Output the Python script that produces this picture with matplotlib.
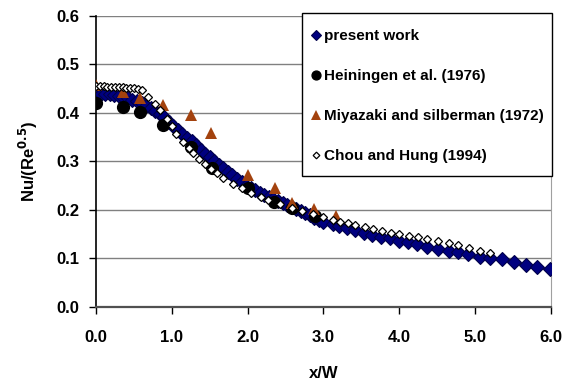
import matplotlib
matplotlib.use("Agg")
import matplotlib.pyplot as plt
from matplotlib.patches import Rectangle

plt.rcParams['font.family'] = ['Liberation Sans', 'DejaVu Sans']
plt.rcParams['font.weight'] = 'bold'

# present work (dense part up to ~2.9, then spaced)
present_x = [0.00, 0.06, 0.12, 0.18, 0.24, 0.30, 0.36, 0.42, 0.48, 0.54,
             0.60, 0.66, 0.72, 0.78, 0.84, 0.90, 0.96, 1.02, 1.08, 1.14,
             1.20, 1.26, 1.32, 1.38, 1.44, 1.50, 1.56, 1.62, 1.68, 1.74,
             1.80, 1.86, 1.92, 1.98, 2.04, 2.10, 2.16, 2.22, 2.28, 2.34,
             2.40, 2.46, 2.52, 2.58, 2.64, 2.70, 2.76, 2.82, 2.88, 2.94,
             3.00, 3.12, 3.21, 3.31, 3.41, 3.54, 3.64, 3.76, 3.88, 4.00,
             4.12, 4.24, 4.37, 4.51, 4.65, 4.77, 4.91, 5.06, 5.20, 5.35,
             5.51, 5.67, 5.82, 5.99]
present_y = [0.437, 0.439, 0.439, 0.438, 0.436, 0.434, 0.432, 0.430, 0.427, 0.424,
             0.420, 0.415, 0.410, 0.404, 0.398, 0.391, 0.382, 0.373, 0.365, 0.357,
             0.349, 0.341, 0.333, 0.324, 0.316, 0.308, 0.300, 0.293, 0.286, 0.278,
             0.271, 0.264, 0.257, 0.250, 0.245, 0.240, 0.235, 0.231, 0.227, 0.222,
             0.218, 0.214, 0.210, 0.206, 0.202, 0.198, 0.193, 0.189, 0.184, 0.180,
             0.175, 0.170, 0.166, 0.162, 0.158, 0.153, 0.148, 0.143, 0.141, 0.135,
             0.133, 0.129, 0.124, 0.120, 0.115, 0.113, 0.109, 0.103, 0.101, 0.098,
             0.093, 0.087, 0.082, 0.077]

# Heiningen et al. (1976)
hein_x = [0.0, 0.35, 0.58, 0.88, 1.25, 1.53, 2.0, 2.35, 2.58, 2.89]
hein_y = [0.421, 0.412, 0.402, 0.375, 0.330, 0.287, 0.246, 0.217, 0.203, 0.187]

# Miyazaki and silberman (1972)
miya_x = [0.0, 0.35, 0.58, 0.89, 1.25, 1.52, 2.01, 2.36, 2.59, 2.88, 3.17]
miya_y = [0.457, 0.443, 0.430, 0.416, 0.395, 0.359, 0.272, 0.244, 0.214, 0.201, 0.187]

# Chou and Hung (1994)
chou_x = [0.00, 0.05, 0.10, 0.15, 0.20, 0.25, 0.30, 0.35, 0.40, 0.45,
          0.50, 0.55, 0.60, 0.69, 0.78, 0.84, 0.93, 1.00, 1.06, 1.15,
          1.22, 1.28, 1.36, 1.44, 1.52, 1.59, 1.68, 1.81, 1.92, 2.05,
          2.18, 2.27, 2.43, 2.58, 2.72, 2.86, 3.00, 3.12, 3.22, 3.32,
          3.42, 3.55, 3.66, 3.77, 3.89, 4.00, 4.13, 4.25, 4.37, 4.51,
          4.66, 4.78, 4.92, 5.06, 5.20]
chou_y = [0.455, 0.455, 0.455, 0.454, 0.454, 0.454, 0.453, 0.453, 0.452, 0.452,
          0.451, 0.450, 0.447, 0.433, 0.419, 0.405, 0.388, 0.372, 0.357, 0.340,
          0.328, 0.317, 0.305, 0.295, 0.284, 0.275, 0.265, 0.254, 0.244, 0.234,
          0.226, 0.220, 0.211, 0.203, 0.197, 0.191, 0.186, 0.180, 0.175, 0.172,
          0.168, 0.164, 0.160, 0.157, 0.153, 0.150, 0.146, 0.143, 0.139, 0.135,
          0.131, 0.127, 0.122, 0.115, 0.110]

fig = plt.figure(figsize=(5.75, 3.85), dpi=100)
ax = fig.add_axes([0.167, 0.203, 0.791, 0.756])

ax.plot(present_x, present_y, 'D', color='#000080', mec='#00004a', mew=0.8, ms=7,
        label='present work', zorder=3)
ax.plot(hein_x, hein_y, 'o', color='black', ms=8.5, label='Heiningen et al. (1976)', zorder=4)
ax.plot(miya_x, miya_y, '^', color='#a3420e', ms=9, mew=0,
        label='Miyazaki and silberman (1972)', zorder=5)
ax.plot(chou_x, chou_y, 'D', mfc='white', mec='black', mew=0.9, ms=4.5,
        label='Chou and Hung (1994)', zorder=6)

ax.set_xlim(0, 6)
ax.set_ylim(0, 0.6)
ax.set_xticks([0, 1, 2, 3, 4, 5, 6])
ax.set_xticklabels(['0.0', '1.0', '2.0', '3.0', '4.0', '5.0', '6.0'])
ax.set_yticks([0, 0.1, 0.2, 0.3, 0.4, 0.5, 0.6])
ax.set_yticklabels(['0.0', '0.1', '0.2', '0.3', '0.4', '0.5', '0.6'])
ax.tick_params(labelsize=12, length=5, width=1, direction='out')
ax.tick_params(axis='x', pad=12)
ax.tick_params(axis='y', pad=7)
ax.yaxis.grid(True, color='#808080', lw=1)
ax.set_axisbelow(True)
ax.spines['top'].set_visible(False)
ax.spines['right'].set_color('#a0a0a0')
ax.spines['right'].set_linewidth(0.8)
ax.spines['left'].set_linewidth(1.2)
ax.spines['bottom'].set_linewidth(1.6)
ax.spines['bottom'].set_color('#505050')

ax.set_xlabel('x/W', fontsize=12, fontweight='bold', labelpad=15)
ax.set_ylabel(r'Nu/(Re$^{\mathbf{0.5}}$)', fontsize=12, fontweight='bold', labelpad=12)

# legend box drawn separately so its size matches the original
W, H = 575.0, 385.0
box = Rectangle((302 / W, 1 - 176 / H), 250 / W, 163 / H, transform=fig.transFigure,
                facecolor='white', edgecolor='black', lw=1, zorder=4)
fig.patches.append(box)

handles, labels = ax.get_legend_handles_labels()
leg = fig.legend(handles, labels, loc='upper left', bbox_to_anchor=(296 / W, 1 - 13 / H),
                 fontsize=11, frameon=False, labelspacing=1.7, handlelength=0.5,
                 handletextpad=0.3, borderpad=1.05, markerscale=0.75, borderaxespad=0)
leg.set_zorder(5)
for t in leg.get_texts():
    t.set_fontweight('bold')

fig.savefig('out.png', dpi=100)
